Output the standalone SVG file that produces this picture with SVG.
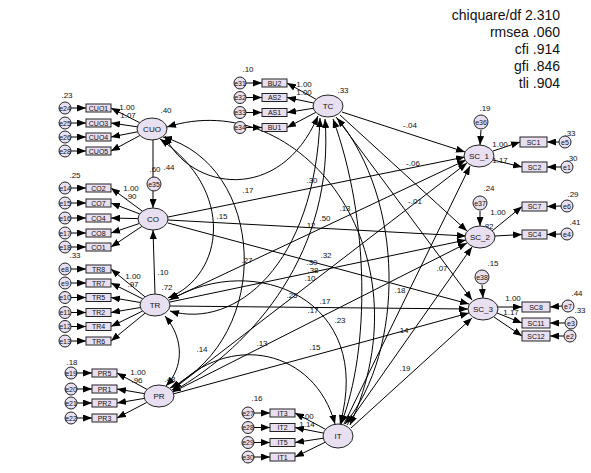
<svg xmlns="http://www.w3.org/2000/svg" width="591" height="473" viewBox="0 0 591 473">
<defs>
<marker id="ah" markerUnits="userSpaceOnUse" markerWidth="9" markerHeight="7" refX="9" refY="3.5" orient="auto-start-reverse">
<path d="M0,0 L9,3.5 L0,7 z" fill="#000"/>
</marker>
</defs>
<style>
.lat{fill:#e8dff0;stroke:#222;stroke-width:1}
.box{fill:#e8dff0;stroke:#222;stroke-width:1}
.err{fill:#e8dff0;stroke:#222;stroke-width:1}
.ln{stroke:#000;stroke-width:1;fill:none;marker-end:url(#ah)}
.cv{stroke:#000;stroke-width:1;fill:none;marker-end:url(#ah);marker-start:url(#ah)}
text{font-family:"Liberation Sans",Arial,sans-serif;fill:#111}
.t{font-size:8px;text-anchor:middle}
.et{font-size:7px;text-anchor:middle}
.fit{font-size:14px;text-anchor:end}
</style>
<rect width="591" height="473" fill="#fff"/>

<g id="fit">
<text class="fit" x="560" y="20">chiquare/df 2.310</text>
<text class="fit" x="560" y="37">rmsea .060</text>
<text class="fit" x="560" y="54">cfi .914</text>
<text class="fit" x="560" y="71">gfi .846</text>
<text class="fit" x="560" y="88">tli .904</text>
</g>

<g id="connectors">
<line class="ln" x1="139.7" y1="122.7" x2="111" y2="108"/>
<line class="ln" x1="137.3" y1="126.8" x2="111" y2="123"/>
<line class="ln" x1="137.5" y1="131.8" x2="111" y2="137"/>
<line class="ln" x1="139.9" y1="135.5" x2="111" y2="151"/>
<line class="ln" x1="71" y1="108" x2="86" y2="108"/>
<line class="ln" x1="71" y1="123" x2="86" y2="123"/>
<line class="ln" x1="71" y1="137" x2="86" y2="137"/>
<line class="ln" x1="71" y1="151" x2="86" y2="151"/>
<line class="ln" x1="142.4" y1="211.2" x2="111" y2="188"/>
<line class="ln" x1="139.7" y1="213.9" x2="111" y2="203"/>
<line class="ln" x1="138" y1="218.6" x2="111" y2="218"/>
<line class="ln" x1="139.3" y1="223.5" x2="111" y2="233"/>
<line class="ln" x1="141.9" y1="226.4" x2="111" y2="247"/>
<line class="ln" x1="71" y1="188" x2="86" y2="188"/>
<line class="ln" x1="71" y1="203" x2="86" y2="203"/>
<line class="ln" x1="71" y1="218" x2="86" y2="218"/>
<line class="ln" x1="71" y1="233" x2="86" y2="233"/>
<line class="ln" x1="71" y1="247" x2="86" y2="247"/>
<line class="ln" x1="145" y1="296.8" x2="111" y2="269"/>
<line class="ln" x1="142.6" y1="298.8" x2="111" y2="283"/>
<line class="ln" x1="140.4" y1="302.5" x2="111" y2="297.5"/>
<line class="ln" x1="140.4" y1="307.5" x2="111" y2="312.5"/>
<line class="ln" x1="142.5" y1="311.1" x2="111" y2="326.5"/>
<line class="ln" x1="145" y1="313.2" x2="111" y2="341"/>
<line class="ln" x1="71" y1="269" x2="86" y2="269"/>
<line class="ln" x1="71" y1="283" x2="86" y2="283"/>
<line class="ln" x1="71" y1="297.5" x2="86" y2="297.5"/>
<line class="ln" x1="71" y1="312.5" x2="86" y2="312.5"/>
<line class="ln" x1="71" y1="326.5" x2="86" y2="326.5"/>
<line class="ln" x1="71" y1="341" x2="86" y2="341"/>
<line class="ln" x1="147" y1="389.4" x2="117" y2="373"/>
<line class="ln" x1="144.4" y1="393.6" x2="117" y2="389"/>
<line class="ln" x1="144.4" y1="398.4" x2="117" y2="403"/>
<line class="ln" x1="146.8" y1="402.4" x2="117" y2="418"/>
<line class="ln" x1="77" y1="373" x2="92" y2="373"/>
<line class="ln" x1="77" y1="389" x2="92" y2="389"/>
<line class="ln" x1="77" y1="403" x2="92" y2="403"/>
<line class="ln" x1="77" y1="418" x2="92" y2="418"/>
<line class="ln" x1="316.1" y1="99.3" x2="287" y2="83"/>
<line class="ln" x1="313.6" y1="103" x2="287" y2="97.5"/>
<line class="ln" x1="313.3" y1="108.3" x2="287" y2="112.5"/>
<line class="ln" x1="315.8" y1="112.4" x2="287" y2="127.5"/>
<line class="ln" x1="246" y1="83" x2="262" y2="83"/>
<line class="ln" x1="246" y1="97.5" x2="262" y2="97.5"/>
<line class="ln" x1="246" y1="112.5" x2="262" y2="112.5"/>
<line class="ln" x1="246" y1="127.5" x2="262" y2="127.5"/>
<line class="ln" x1="325.9" y1="429.5" x2="295" y2="413"/>
<line class="ln" x1="323.5" y1="433.1" x2="295" y2="427.5"/>
<line class="ln" x1="323.5" y1="438.2" x2="295" y2="442.5"/>
<line class="ln" x1="325.5" y1="442.1" x2="295" y2="457"/>
<line class="ln" x1="254" y1="413" x2="270" y2="413"/>
<line class="ln" x1="254" y1="427.5" x2="270" y2="427.5"/>
<line class="ln" x1="254" y1="442.5" x2="270" y2="442.5"/>
<line class="ln" x1="254" y1="457" x2="270" y2="457"/>
<line class="ln" x1="493" y1="151" x2="520" y2="142"/>
<line class="ln" x1="493" y1="160" x2="522" y2="167"/>
<line class="ln" x1="559" y1="142" x2="547" y2="142"/>
<line class="ln" x1="561" y1="167" x2="547" y2="167"/>
<line class="ln" x1="492" y1="231" x2="522" y2="206.5"/>
<line class="ln" x1="495" y1="236" x2="522" y2="234.5"/>
<line class="ln" x1="561" y1="206" x2="547" y2="206.5"/>
<line class="ln" x1="561" y1="234" x2="547" y2="234.5"/>
<line class="ln" x1="498" y1="307" x2="522" y2="307"/>
<line class="ln" x1="497" y1="313" x2="522" y2="323"/>
<line class="ln" x1="494" y1="317" x2="522" y2="336"/>
<line class="ln" x1="562" y1="306" x2="550" y2="307"/>
<line class="ln" x1="565" y1="323" x2="550" y2="323"/>
<line class="ln" x1="564" y1="336" x2="550" y2="336"/>
<line class="ln" x1="481" y1="130" x2="480" y2="145"/>
<line class="ln" x1="480" y1="211" x2="480" y2="226"/>
<line class="ln" x1="482" y1="285" x2="483" y2="298"/>
<line class="ln" x1="153" y1="140" x2="153" y2="208"/>
<line class="ln" x1="155" y1="294" x2="153" y2="230"/>
<line class="ln" x1="342" y1="112" x2="465" y2="152"/>
<line class="ln" x1="168" y1="217" x2="465" y2="157"/>
<line class="ln" x1="169" y1="300" x2="466" y2="160"/>
<line class="ln" x1="172" y1="390" x2="467" y2="163"/>
<line class="ln" x1="344" y1="424" x2="470" y2="166"/>
<line class="ln" x1="340" y1="115" x2="467" y2="231"/>
<line class="ln" x1="168" y1="220" x2="466" y2="236"/>
<line class="ln" x1="170" y1="302" x2="466" y2="240"/>
<line class="ln" x1="173" y1="392" x2="467" y2="243"/>
<line class="ln" x1="347" y1="425" x2="472" y2="247"/>
<line class="ln" x1="336" y1="117" x2="472" y2="300"/>
<line class="ln" x1="168" y1="223" x2="469" y2="304"/>
<line class="ln" x1="170" y1="306" x2="468" y2="309"/>
<line class="ln" x1="173" y1="394" x2="469" y2="313"/>
<line class="ln" x1="351" y1="428" x2="472" y2="318"/>
<path class="cv" d="M165,136 C190,190 280,205 318,116"/>
<path class="cv" d="M160,139 C235,190 225,275 168,298"/>
<path class="cv" d="M163,137 C265,165 275,335 170,388"/>
<path class="cv" d="M167,127 C300,85 430,250 350,425"/>
<path class="cv" d="M320,118 C315,265 235,330 170,311"/>
<path class="cv" d="M325,119 C335,250 255,345 172,392"/>
<path class="cv" d="M337,118 C405,200 405,350 345,424"/>
<path class="cv" d="M333,119 C370,220 370,350 341,424"/>
<path class="cv" d="M165,316 C185,340 183,368 166,386"/>
<path class="cv" d="M170,300 C255,250 375,300 340,424"/>
<path class="cv" d="M173,390 C230,330 315,350 335,424"/>
</g>

<g id="path-labels">
<text class="t" x="410" y="128">-.04</text>
<text class="t" x="413" y="166">-.06</text>
<text class="t" x="415" y="204">-.01</text>
<text class="t" x="312" y="183">.30</text>
<text class="t" x="248" y="193">.17</text>
<text class="t" x="222" y="219">.15</text>
<text class="t" x="310" y="228">.12</text>
<text class="t" x="325" y="221">.50</text>
<text class="t" x="345" y="211">.13</text>
<text class="t" x="247" y="263">.27</text>
<text class="t" x="326" y="258">.32</text>
<text class="t" x="312" y="265">.30</text>
<text class="t" x="313" y="273">.38</text>
<text class="t" x="310" y="281">.10</text>
<text class="t" x="292" y="298">.25</text>
<text class="t" x="325" y="304">.17</text>
<text class="t" x="313" y="313">.17</text>
<text class="t" x="340" y="323">.23</text>
<text class="t" x="400" y="293">.18</text>
<text class="t" x="442" y="271">.07</text>
<text class="t" x="403" y="333">.14</text>
<text class="t" x="315" y="350">.15</text>
<text class="t" x="202" y="352">.14</text>
<text class="t" x="262" y="346">.13</text>
<text class="t" x="405" y="371">.19</text>
<text class="t" x="163" y="275">.10</text>
<text class="t" x="167" y="290">.72</text>
<text class="t" x="166" y="113">.40</text>
<text class="t" x="343" y="93">.33</text>
<text class="t" x="170" y="382">.48</text>
<text class="t" x="155" y="172">.60</text>
<text class="t" x="169" y="170">.44</text>
<text class="t" x="485" y="111">.19</text>
<text class="t" x="489" y="191">.24</text>
<text class="t" x="493" y="266">.15</text>
<text class="t" x="500" y="147">1.00</text>
<text class="t" x="500" y="163">1.17</text>
<text class="t" x="498" y="215">1.00</text>
<text class="t" x="488" y="229">.82</text>
<text class="t" x="513" y="301">1.00</text>
<text class="t" x="511" y="315">1.17</text>
<text class="t" x="570" y="136">.33</text>
<text class="t" x="572" y="161">.30</text>
<text class="t" x="573" y="197">.29</text>
<text class="t" x="575" y="225">.41</text>
<text class="t" x="577" y="296">.44</text>
<text class="t" x="580" y="313">.33</text>
<text class="t" x="127" y="110">1.00</text>
<text class="t" x="128" y="118">1.07</text>
<text class="t" x="131" y="191">1.00</text>
<text class="t" x="131" y="199">.90</text>
<text class="t" x="133" y="279">1.00</text>
<text class="t" x="133" y="287">.97</text>
<text class="t" x="138" y="375">1.00</text>
<text class="t" x="137" y="383">.96</text>
<text class="t" x="304" y="87">1.00</text>
<text class="t" x="304" y="95">1.00</text>
<text class="t" x="306" y="419">1.00</text>
<text class="t" x="307" y="427">1.14</text>
<text class="t" x="67" y="98">.23</text>
<text class="t" x="75" y="178">.25</text>
<text class="t" x="75" y="258">.33</text>
<text class="t" x="72" y="365">.18</text>
<text class="t" x="248" y="72">.10</text>
<text class="t" x="257" y="401">.16</text>
</g>

<g id="CUO"><ellipse class="lat" cx="152" cy="129" rx="15" ry="11"/><text class="t" x="152" y="132">CUO</text></g>
<g id="CO"><ellipse class="lat" cx="153" cy="219" rx="15" ry="11"/><text class="t" x="153" y="222">CO</text></g>
<g id="TR"><ellipse class="lat" cx="155" cy="305" rx="15" ry="11"/><text class="t" x="155" y="308">TR</text></g>
<g id="PR"><ellipse class="lat" cx="159" cy="396" rx="15" ry="11"/><text class="t" x="159" y="399">PR</text></g>
<g id="TC"><ellipse class="lat" cx="328" cy="106" rx="15" ry="11"/><text class="t" x="328" y="109">TC</text></g>
<g id="IT"><ellipse class="lat" cx="338" cy="436" rx="15" ry="12"/><text class="t" x="338" y="439">IT</text></g>
<g id="SC_1"><ellipse class="lat" cx="479" cy="156" rx="15" ry="11"/><text class="t" x="479" y="159">SC_1</text></g>
<g id="SC_2"><ellipse class="lat" cx="480" cy="237" rx="15" ry="11"/><text class="t" x="480" y="240">SC_2</text></g>
<g id="SC_3"><ellipse class="lat" cx="483" cy="309" rx="15" ry="11"/><text class="t" x="483" y="312">SC_3</text></g>

<g id="e35"><circle class="err" cx="154" cy="184" r="7"/><text class="et" x="154" y="187">e35</text></g>
<g id="e36"><circle class="err" cx="481" cy="122" r="7"/><text class="et" x="481" y="125">e36</text></g>
<g id="e37"><circle class="err" cx="480" cy="203" r="7"/><text class="et" x="480" y="206">e37</text></g>
<g id="e38"><circle class="err" cx="482" cy="277" r="7"/><text class="et" x="482" y="280">e38</text></g>

<g id="ind-CUO">
<rect class="box" x="86" y="104" width="25" height="8"/><text class="et" x="98.5" y="110.5">CUO1</text>
<rect class="box" x="86" y="119" width="25" height="8"/><text class="et" x="98.5" y="125.5">CUO3</text>
<rect class="box" x="86" y="133" width="25" height="8"/><text class="et" x="98.5" y="139.5">CUO4</text>
<rect class="box" x="86" y="147" width="25" height="8"/><text class="et" x="98.5" y="153.5">CUO5</text>
<circle class="err" cx="65" cy="108" r="6"/><text class="et" x="65" y="110.5">e24</text>
<circle class="err" cx="65" cy="123" r="6"/><text class="et" x="65" y="125.5">e25</text>
<circle class="err" cx="65" cy="137" r="6"/><text class="et" x="65" y="139.5">e26</text>
<circle class="err" cx="65" cy="151" r="6"/><text class="et" x="65" y="153.5">e28</text>
</g>
<g id="ind-CO">
<rect class="box" x="86" y="184" width="25" height="8"/><text class="et" x="98.5" y="190.5">CO2</text>
<rect class="box" x="86" y="199" width="25" height="8"/><text class="et" x="98.5" y="205.5">CO7</text>
<rect class="box" x="86" y="214" width="25" height="8"/><text class="et" x="98.5" y="220.5">CO4</text>
<rect class="box" x="86" y="229" width="25" height="8"/><text class="et" x="98.5" y="235.5">CO8</text>
<rect class="box" x="86" y="243" width="25" height="8"/><text class="et" x="98.5" y="249.5">CO1</text>
<circle class="err" cx="65" cy="188" r="6"/><text class="et" x="65" y="190.5">e14</text>
<circle class="err" cx="65" cy="203" r="6"/><text class="et" x="65" y="205.5">e15</text>
<circle class="err" cx="65" cy="218" r="6"/><text class="et" x="65" y="220.5">e16</text>
<circle class="err" cx="65" cy="233" r="6"/><text class="et" x="65" y="235.5">e17</text>
<circle class="err" cx="65" cy="247" r="6"/><text class="et" x="65" y="249.5">e18</text>
</g>
<g id="ind-TR">
<rect class="box" x="86" y="265" width="25" height="8"/><text class="et" x="98.5" y="271.5">TR8</text>
<rect class="box" x="86" y="279" width="25" height="8"/><text class="et" x="98.5" y="285.5">TR7</text>
<rect class="box" x="86" y="293.5" width="25" height="8"/><text class="et" x="98.5" y="300">TR5</text>
<rect class="box" x="86" y="308.5" width="25" height="8"/><text class="et" x="98.5" y="315">TR2</text>
<rect class="box" x="86" y="322.5" width="25" height="8"/><text class="et" x="98.5" y="329">TR4</text>
<rect class="box" x="86" y="337" width="25" height="8"/><text class="et" x="98.5" y="343.5">TR6</text>
<circle class="err" cx="65" cy="269" r="6"/><text class="et" x="65" y="271.5">e8</text>
<circle class="err" cx="65" cy="283" r="6"/><text class="et" x="65" y="285.5">e9</text>
<circle class="err" cx="65" cy="297.5" r="6"/><text class="et" x="65" y="300">e10</text>
<circle class="err" cx="65" cy="312.5" r="6"/><text class="et" x="65" y="315">e11</text>
<circle class="err" cx="65" cy="326.5" r="6"/><text class="et" x="65" y="329">e12</text>
<circle class="err" cx="65" cy="341" r="6"/><text class="et" x="65" y="343.5">e13</text>
</g>
<g id="ind-PR">
<rect class="box" x="92" y="369" width="25" height="8"/><text class="et" x="104.5" y="375.5">PR5</text>
<rect class="box" x="92" y="385" width="25" height="8"/><text class="et" x="104.5" y="391.5">PR1</text>
<rect class="box" x="92" y="399" width="25" height="8"/><text class="et" x="104.5" y="405.5">PR2</text>
<rect class="box" x="92" y="414" width="25" height="8"/><text class="et" x="104.5" y="420.5">PR3</text>
<circle class="err" cx="71" cy="373" r="6"/><text class="et" x="71" y="375.5">e19</text>
<circle class="err" cx="71" cy="389" r="6"/><text class="et" x="71" y="391.5">e20</text>
<circle class="err" cx="71" cy="403" r="6"/><text class="et" x="71" y="405.5">e21</text>
<circle class="err" cx="71" cy="418" r="6"/><text class="et" x="71" y="420.5">e22</text>
</g>
<g id="ind-TC">
<rect class="box" x="262" y="79" width="25" height="8"/><text class="et" x="274.5" y="85.5">BU2</text>
<rect class="box" x="262" y="93.5" width="25" height="8"/><text class="et" x="274.5" y="100">AS2</text>
<rect class="box" x="262" y="108.5" width="25" height="8"/><text class="et" x="274.5" y="115">AS1</text>
<rect class="box" x="262" y="123.5" width="25" height="8"/><text class="et" x="274.5" y="130">BU1</text>
<circle class="err" cx="240" cy="83" r="6"/><text class="et" x="240" y="85.5">e31</text>
<circle class="err" cx="240" cy="97.5" r="6"/><text class="et" x="240" y="100">e32</text>
<circle class="err" cx="240" cy="112.5" r="6"/><text class="et" x="240" y="115">e33</text>
<circle class="err" cx="240" cy="127.5" r="6"/><text class="et" x="240" y="130">e34</text>
</g>
<g id="ind-IT">
<rect class="box" x="270" y="409" width="25" height="8"/><text class="et" x="282.5" y="415.5">IT3</text>
<rect class="box" x="270" y="423.5" width="25" height="8"/><text class="et" x="282.5" y="430">IT2</text>
<rect class="box" x="270" y="438.5" width="25" height="8"/><text class="et" x="282.5" y="445">IT5</text>
<rect class="box" x="270" y="453" width="25" height="8"/><text class="et" x="282.5" y="459.5">IT1</text>
<circle class="err" cx="248" cy="413" r="6"/><text class="et" x="248" y="415.5">e27</text>
<circle class="err" cx="248" cy="427.5" r="6"/><text class="et" x="248" y="430">e28</text>
<circle class="err" cx="248" cy="442.5" r="6"/><text class="et" x="248" y="445">e29</text>
<circle class="err" cx="248" cy="457" r="6"/><text class="et" x="248" y="459.5">e30</text>
</g>
<g id="ind-SC">
<rect class="box" x="520" y="137" width="27" height="10"/><text class="et" x="533.5" y="144.5">SC1</text>
<rect class="box" x="522" y="162" width="25" height="10"/><text class="et" x="534.5" y="169.5">SC2</text>
<rect class="box" x="522" y="202" width="25" height="9"/><text class="et" x="534.5" y="209">SC7</text>
<rect class="box" x="522" y="230" width="25" height="9"/><text class="et" x="534.5" y="237">SC4</text>
<rect class="box" x="522" y="302" width="28" height="10"/><text class="et" x="536" y="309.5">SC8</text>
<rect class="box" x="522" y="318" width="28" height="10"/><text class="et" x="536" y="325.5">SC11</text>
<rect class="box" x="522" y="331" width="28" height="10"/><text class="et" x="536" y="338.5">SC12</text>
<circle class="err" cx="565" cy="142" r="6"/><text class="et" x="565" y="144.5">e5</text>
<circle class="err" cx="567" cy="167" r="6"/><text class="et" x="567" y="169.5">e1</text>
<circle class="err" cx="567" cy="206" r="6"/><text class="et" x="567" y="208.5">e6</text>
<circle class="err" cx="567" cy="234" r="6"/><text class="et" x="567" y="236.5">e4</text>
<circle class="err" cx="568" cy="306" r="6"/><text class="et" x="568" y="308.5">e7</text>
<circle class="err" cx="571" cy="323" r="6"/><text class="et" x="571" y="325.5">e3</text>
<circle class="err" cx="570" cy="336" r="6"/><text class="et" x="570" y="338.5">e2</text>
</g>
</svg>
